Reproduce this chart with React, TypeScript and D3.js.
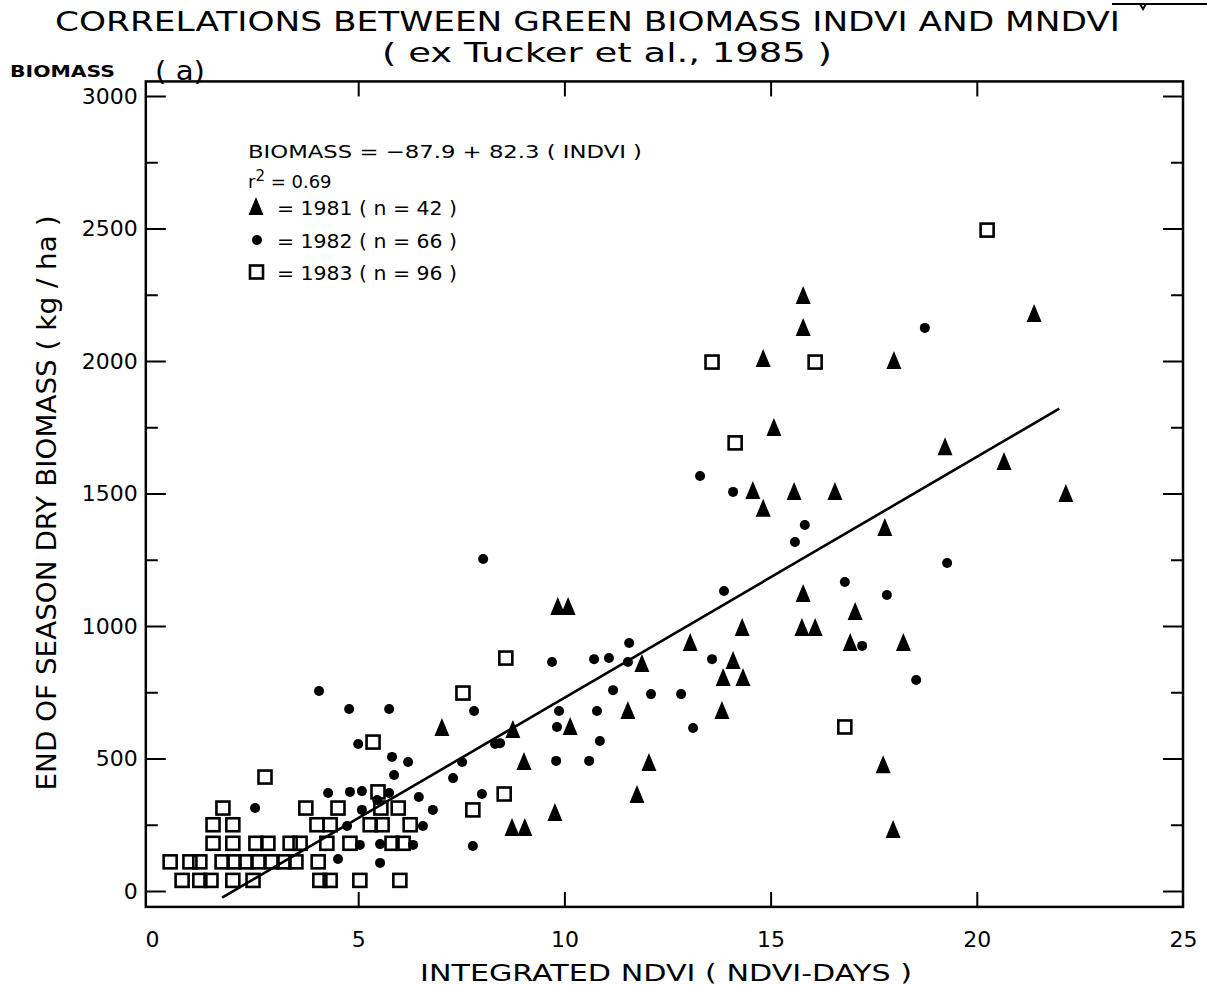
import { useEffect, useRef } from 'react';
import * as d3 from 'd3';

const W = 1207;
const H = 985;

// 1981 (filled triangles) -- [integrated NDVI, biomass kg/ha]
const pts1981: [number, number][] = [
  [15.79, 2245], [15.79, 2125], [14.82, 2008], [17.99, 2000], [21.39, 2177],
  [15.08, 1747], [19.23, 1675], [20.66, 1619], [22.16, 1498], [14.57, 1509],
  [15.57, 1506], [16.56, 1506], [14.82, 1442], [17.77, 1370], [15.79, 1121],
  [15.76, 992], [16.08, 992], [17.05, 1053], [16.93, 936], [18.22, 936],
  [9.84, 1072], [10.09, 1072], [14.31, 992], [13.05, 936], [14.09, 868],
  [13.85, 804], [14.33, 804], [11.88, 857], [11.54, 679], [13.82, 679],
  [7.03, 615], [8.75, 608], [10.14, 619], [9.02, 487], [12.05, 483],
  [11.76, 362], [9.77, 294], [8.73, 238], [9.04, 238], [17.73, 475],
  [17.97, 230],
];

// 1982 (dots)
const pts1982: [number, number][] = [
  [8.03, 1253], [4.05, 755], [4.78, 687], [5.75, 687], [7.81, 679],
  [5.0, 555], [5.82, 506], [6.21, 487], [5.87, 438], [2.5, 313],
  [4.27, 370], [4.8, 374], [5.09, 377], [5.75, 370], [6.47, 355],
  [6.81, 306], [7.3, 426], [7.52, 487], [8.32, 555], [8.0, 366],
  [7.78, 170], [5.53, 106], [4.51, 121], [6.57, 245], [6.33, 174],
  [5.04, 174], [5.53, 177], [4.73, 245], [5.09, 306], [5.46, 343],
  [11.57, 936], [9.7, 864], [10.72, 875], [11.08, 879], [11.54, 864],
  [13.87, 1132], [15.59, 1317], [15.83, 1381], [11.18, 758], [12.1, 743],
  [12.83, 743], [13.58, 875], [9.87, 679], [10.79, 679], [9.82, 619],
  [10.86, 566], [9.8, 491], [10.6, 491], [13.12, 615], [16.8, 1166],
  [17.82, 1117], [17.22, 925], [8.44, 558], [13.29, 1566], [14.09, 1506],
  [19.28, 1238], [18.53, 796], [18.74, 2125],
];

// 1983 (open squares)
const pts1983: [number, number][] = [
  [0.73, 40], [1.16, 40], [1.43, 40], [1.96, 40], [2.45, 40],
  [4.07, 40], [4.32, 40], [5.04, 40], [6.01, 40],
  [0.44, 110], [0.92, 110], [1.16, 110], [1.7, 110], [1.99, 110],
  [2.28, 110], [2.57, 110], [2.91, 110], [3.2, 110], [3.49, 110], [4.03, 110],
  [1.48, 180], [1.96, 180], [2.52, 180], [2.81, 180], [3.35, 180],
  [3.59, 180], [4.24, 180], [4.8, 180], [5.82, 180], [6.09, 180],
  [1.48, 250], [1.96, 250], [4.0, 250], [4.32, 250], [5.29, 250],
  [5.58, 250], [6.26, 250],
  [1.72, 313], [3.73, 313], [4.51, 313], [5.55, 313], [5.97, 313],
  [2.74, 430], [5.36, 562], [5.48, 374], [7.54, 747], [8.58, 879],
  [7.78, 306], [8.54, 366], [13.58, 1996], [14.14, 1691], [16.08, 1996],
  [20.25, 2494], [16.8, 619],
];

// fitted line as drawn
const regLine: [number, number][] = [[1.7, -25], [22.0, 1820]];

const xTicks = [0, 5, 10, 15, 20, 25];
const yTicks = [0, 500, 1000, 1500, 2000, 2500, 3000];
const yMinor = [250, 750, 1250, 1750, 2250, 2750];

const title = 'CORRELATIONS BETWEEN GREEN BIOMASS INDVI AND MNDVI';
const subtitle = '( ex Tucker et al., 1985 )';
const xTitle = 'INTEGRATED  NDVI ( NDVI-DAYS )';
const yTitle = 'END OF SEASON DRY BIOMASS ( kg / ha )';
const equation = 'BIOMASS  = \u221287.9 + 82.3 ( INDVI )';
const legendRows = [
  { key: 'tri', label: '= 1981 ( n = 42 )' },
  { key: 'dot', label: '= 1982 ( n = 66 )' },
  { key: 'sq', label: '= 1983 ( n = 96 )' },
];

const FONT = '"DejaVu Sans", sans-serif';
const TRI = 'M0,-10L7.5,8L-7.5,8Z';

export default function App() {
  const ref = useRef<SVGSVGElement | null>(null);

  useEffect(() => {
    if (!ref.current) return;
    const svg = d3.select(ref.current);
    svg.selectAll('*').remove();

    const x = d3.scaleLinear().domain([0, 25]).range([152, 1183]);
    const y = d3.scaleLinear().domain([0, 3000]).range([891, 96]);
    const left = x(-0.15);
    const right = x(25);
    const top = y(3055);
    const bottom = y(-60);

    svg.append('rect').attr('width', W).attr('height', H).attr('fill', '#fff');

    // frame
    svg.append('rect')
      .attr('x', left).attr('y', top)
      .attr('width', right - left).attr('height', bottom - top)
      .attr('fill', 'none').attr('stroke', '#000').attr('stroke-width', 2.5);

    const styleAxis = (g: any) => {
      g.select('.domain').remove();
      g.selectAll('line').attr('stroke', '#000').attr('stroke-width', 2);
      g.selectAll('text')
        .attr('font-family', FONT).attr('font-size', 22).attr('fill', '#000');
    };

    // left axis
    svg.append('g').attr('transform', `translate(${left},0)`)
      .call(d3.axisLeft(y).tickValues(yTicks).tickSize(-20).tickPadding(8).tickFormat(d3.format('d')) as any)
      .call(styleAxis);
    svg.append('g').attr('transform', `translate(${left},0)`)
      .call(d3.axisLeft(y).tickValues(yMinor).tickSize(-12).tickFormat(() => '') as any)
      .call(styleAxis);
    // right axis
    svg.append('g').attr('transform', `translate(${right},0)`)
      .call(d3.axisRight(y).tickValues(yTicks).tickSize(-20).tickFormat(() => '') as any)
      .call(styleAxis);
    svg.append('g').attr('transform', `translate(${right},0)`)
      .call(d3.axisRight(y).tickValues(yMinor).tickSize(-12).tickFormat(() => '') as any)
      .call(styleAxis);
    // bottom axis
    const bx = svg.append('g').attr('transform', `translate(0,${bottom})`)
      .call(d3.axisBottom(x).tickValues(xTicks).tickSize(-15).tickPadding(24) as any)
      .call(styleAxis);
    bx.selectAll('.tick line').filter((d: any) => d === 0 || d === 25).remove();
    // top axis
    const tx = svg.append('g').attr('transform', `translate(0,${top})`)
      .call(d3.axisTop(x).tickValues(xTicks).tickSize(-15).tickFormat(() => '') as any)
      .call(styleAxis);
    tx.selectAll('.tick line').filter((d: any) => d === 0 || d === 25).remove();

    // regression line
    svg.append('path')
      .datum(regLine)
      .attr('d', d3.line<[number, number]>().x(d => x(d[0])).y(d => y(d[1])))
      .attr('fill', 'none').attr('stroke', '#000').attr('stroke-width', 2.6);

    // points
    svg.append('g').selectAll('rect').data(pts1983).enter().append('rect')
      .attr('x', d => x(d[0]) - 6.5).attr('y', d => y(d[1]) - 6.5)
      .attr('width', 13).attr('height', 13)
      .attr('fill', 'none').attr('stroke', '#000').attr('stroke-width', 2.6);
    svg.append('g').selectAll('circle').data(pts1982).enter().append('circle')
      .attr('cx', d => x(d[0])).attr('cy', d => y(d[1])).attr('r', 5)
      .attr('fill', '#000');
    svg.append('g').selectAll('path').data(pts1981).enter().append('path')
      .attr('transform', d => `translate(${x(d[0])},${y(d[1])})`)
      .attr('d', TRI).attr('fill', '#000');

    // scan mark at top right
    svg.append('path')
      .attr('d', 'M1112,4L1207,4M1140,4L1143,9L1146,4')
      .attr('fill', 'none').attr('stroke', '#000').attr('stroke-width', 2);

    // titles
    const txt = (xx: number, yy: number, s: string, size: number, len?: number, anchor = 'start') => {
      const t = svg.append('text').attr('x', xx).attr('y', yy)
        .attr('font-family', FONT).attr('font-size', size).attr('fill', '#000')
        .attr('text-anchor', anchor).text(s);
      if (len) t.attr('textLength', len).attr('lengthAdjust', 'spacingAndGlyphs');
      return t;
    };
    txt(55, 31, title, 27, 1065);
    txt(382, 62, subtitle, 27, 450);
    txt(10, 77, 'BIOMASS', 16, 105).attr('font-weight', 'bold');
    txt(155, 80, '( a)', 26, 50);
    txt(420, 981, xTitle, 23, 492);
    svg.append('text')
      .attr('transform', `translate(56,503) rotate(-90)`)
      .attr('font-family', FONT).attr('font-size', 26).attr('fill', '#000')
      .attr('text-anchor', 'middle')
      .attr('textLength', 575).attr('lengthAdjust', 'spacingAndGlyphs')
      .text(yTitle);

    // legend
    txt(248, 158, equation, 18, 394);
    const r2 = svg.append('text').attr('x', 248).attr('y', 188)
      .attr('font-family', FONT).attr('font-size', 18).attr('fill', '#000');
    r2.append('tspan').text('r');
    r2.append('tspan').attr('dy', -7).attr('font-size', 15).text('2');
    r2.append('tspan').attr('dy', 7).text('  = 0.69');

    const rowY = [207, 240, 272];
    legendRows.forEach((row, i) => {
      const cy = rowY[i];
      if (row.key === 'tri') {
        svg.append('path').attr('transform', `translate(256,${cy})`).attr('d', TRI).attr('fill', '#000');
      } else if (row.key === 'dot') {
        svg.append('circle').attr('cx', 257).attr('cy', cy).attr('r', 5).attr('fill', '#000');
      } else {
        svg.append('rect').attr('x', 250).attr('y', cy - 6.5).attr('width', 13).attr('height', 13)
          .attr('fill', 'none').attr('stroke', '#000').attr('stroke-width', 2.6);
      }
      txt(277, cy + 8, row.label, 19, 180);
    });
  }, []);

  return (
    <svg
      ref={ref}
      width={W}
      height={H}
      style={{ position: 'absolute', left: 0, top: 0, display: 'block' }}
    />
  );
}
